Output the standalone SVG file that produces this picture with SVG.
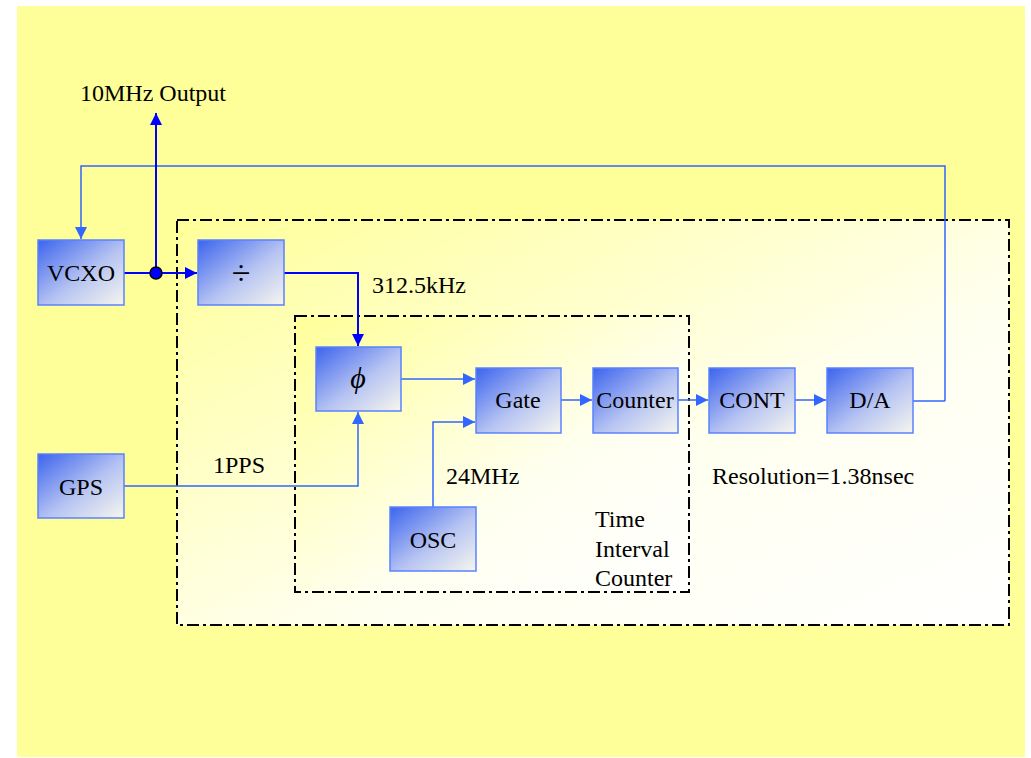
<svg xmlns="http://www.w3.org/2000/svg" width="1031" height="758" viewBox="0 0 1031 758">
  <defs>
    <linearGradient id="boxGrad" x1="0" y1="0" x2="1" y2="1">
      <stop offset="0" stop-color="#3c64ee"/>
      <stop offset="0.55" stop-color="#b7c4f2"/>
      <stop offset="1" stop-color="#f6f6ee"/>
    </linearGradient>
    <linearGradient id="areaGrad" x1="0" y1="0" x2="1" y2="1">
      <stop offset="0" stop-color="#ffff99"/>
      <stop offset="0.6" stop-color="#fffff0"/>
      <stop offset="1" stop-color="#ffffff"/>
    </linearGradient>
    <marker id="arrL" viewBox="0 0 10 10" refX="10" refY="5" markerWidth="14" markerHeight="12" markerUnits="userSpaceOnUse" orient="auto">
      <path d="M0,0 L10,5 L0,10 Z" fill="#3366ff"/>
    </marker>
    <marker id="arrB" viewBox="0 0 10 10" refX="10" refY="5" markerWidth="14" markerHeight="12" markerUnits="userSpaceOnUse" orient="auto">
      <path d="M0,0 L10,5 L0,10 Z" fill="#0000ff"/>
    </marker>
  </defs>
  <style>
    .node rect { fill: url(#boxGrad); stroke: #5a82ff; stroke-width: 1.5; }
    .lbl { font-family: "Liberation Serif", "Times New Roman", serif; font-size: 24px; fill: #000; }
    .ntext { font-family: "Liberation Serif", "Times New Roman", serif; font-size: 24px; fill: #000; text-anchor: middle; }
    .frame { stroke: #000; stroke-width: 2; stroke-dasharray: 12 4 3 4; }
    .conn { fill: none; stroke: #3366ff; stroke-width: 1.5; }
    .connB { fill: none; stroke: #0000ff; stroke-width: 2; }
  </style>

  <rect x="17" y="6" width="1008" height="751" fill="#ffff99"/>

  <g id="frames">
    <rect class="frame" x="177" y="220" width="832" height="405" fill="url(#areaGrad)"/>
    <rect class="frame" x="295" y="316" width="394" height="276" fill="url(#areaGrad)"/>
  </g>

  <g id="connectors">
    <path class="conn" d="M945,401 L945,166 L81,166 L81,239" marker-end="url(#arrL)"/>
    <path class="connB" d="M156,273 L156,113" marker-end="url(#arrB)"/>
    <path class="connB" d="M124,273 L197,273" marker-end="url(#arrB)"/>
    <path class="connB" d="M284,273 L358,273 L358,346" marker-end="url(#arrB)"/>
    <path class="conn" d="M124,486 L358,486 L358,412" marker-end="url(#arrL)"/>
    <path class="conn" d="M401,379 L475,379" marker-end="url(#arrL)"/>
    <path class="conn" d="M433,507 L433,422 L475,422" marker-end="url(#arrL)"/>
    <path class="conn" d="M561,400 L592,400" marker-end="url(#arrL)"/>
    <path class="conn" d="M678,400 L708,400" marker-end="url(#arrL)"/>
    <path class="conn" d="M795,400 L826,400" marker-end="url(#arrL)"/>
    <path class="conn" d="M913,401 L945,401"/>
    <circle cx="156" cy="273" r="6" fill="#0000ff" stroke="#000" stroke-width="1.5"/>
  </g>

  <g id="vcxo" class="node"><rect x="38" y="240" width="86" height="65"/><text class="ntext" x="81" y="281">VCXO</text></g>
  <g id="divider" class="node"><rect x="198" y="240" width="86" height="65"/><text class="ntext" x="241" y="284" style="font-size:34px">÷</text></g>
  <g id="phase" class="node"><rect x="316" y="347" width="85" height="64"/><text class="ntext" x="358" y="388" style="font-size:30px;font-style:italic">ϕ</text></g>
  <g id="gate" class="node"><rect x="476" y="368" width="85" height="65"/><text class="ntext" x="518" y="408">Gate</text></g>
  <g id="counter" class="node"><rect x="593" y="368" width="85" height="65"/><text class="ntext" x="635" y="408">Counter</text></g>
  <g id="cont" class="node"><rect x="709" y="368" width="86" height="65"/><text class="ntext" x="752" y="408">CONT</text></g>
  <g id="da" class="node"><rect x="827" y="368" width="86" height="65"/><text class="ntext" x="870" y="408">D/A</text></g>
  <g id="gps" class="node"><rect x="38" y="454" width="86" height="64"/><text class="ntext" x="81" y="495">GPS</text></g>
  <g id="osc" class="node"><rect x="390" y="507" width="86" height="64"/><text class="ntext" x="433" y="548">OSC</text></g>

  <g id="labels">
    <text class="lbl" x="80" y="101">10MHz Output</text>
    <text class="lbl" x="372" y="293">312.5kHz</text>
    <text class="lbl" x="213" y="473">1PPS</text>
    <text class="lbl" x="446" y="484">24MHz</text>
    <text class="lbl" x="712" y="484">Resolution=1.38nsec</text>
    <text class="lbl" x="595" y="527">Time</text>
    <text class="lbl" x="595" y="557">Interval</text>
    <text class="lbl" x="595" y="586">Counter</text>
  </g>
</svg>
